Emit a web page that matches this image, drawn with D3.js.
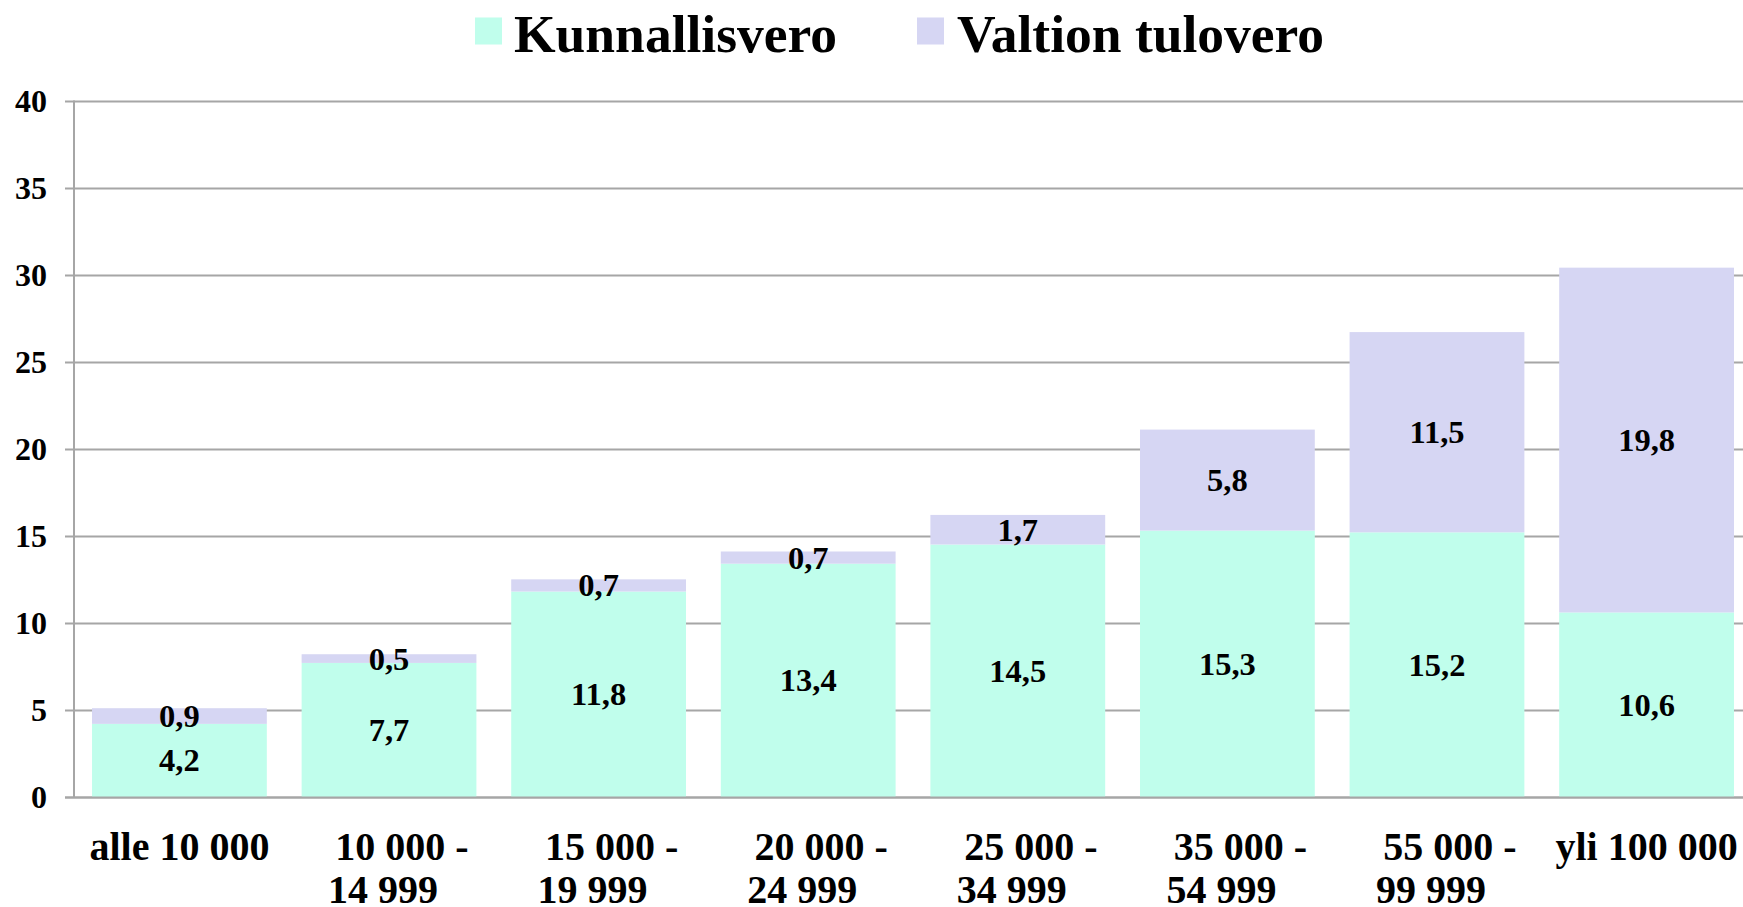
<!DOCTYPE html>
<html>
<head>
<meta charset="utf-8">
<script src="https://cdn.jsdelivr.net/npm/d3@7/dist/d3.min.js"></script>
<style>
  html, body { margin: 0; padding: 0; background: #ffffff; overflow: hidden; }
  svg { display: block; }
  text { font-family: "Liberation Serif", "Times New Roman", serif; font-weight: bold; fill: #000; }
</style>
</head>
<body>
<svg id="chart" width="1743" height="907"></svg>
<script>
// ---- Data ----
const categories = ["alle 10 000", "10 000 - 14 999", "15 000 - 19 999", "20 000 - 24 999",
                    "25 000 - 34 999", "35 000 - 54 999", "55 000 - 99 999", "yli 100 000"];
const categoryLines = [["alle 10 000"], ["10 000 -", "14 999"], ["15 000 -", "19 999"], ["20 000 -", "24 999"],
                       ["25 000 -", "34 999"], ["35 000 -", "54 999"], ["55 000 -", "99 999"], ["yli 100 000"]];
const seriesNames = ["Kunnallisvero", "Valtion tulovero"];
const kunnallisvero = [4.2, 7.7, 11.8, 13.4, 14.5, 15.3, 15.2, 10.6];
const valtionTulovero = [0.9, 0.5, 0.7, 0.7, 1.7, 5.8, 11.5, 19.8];
const yTicks = [0, 5, 10, 15, 20, 25, 30, 35, 40];

const colors = ["#C0FEEC", "#D6D6F3"];

// ---- Layout ----
const svg = d3.select("#chart");
const W = 1743, H = 907;
const x0 = 74, x1 = 1752, yBottom = 797, yTop = 100.5;

const x = d3.scaleBand().domain(categories).range([x0, x1]).paddingInner(0.166).paddingOuter(0.086);
const y = d3.scaleLinear().domain([0, 40]).range([yBottom, yTop]);

const rows = categories.map((c, i) => ({ cat: c, Kunnallisvero: kunnallisvero[i], "Valtion tulovero": valtionTulovero[i] }));
const stack = d3.stack().keys(seriesNames)(rows);

// gridlines
const gridColor = "#A6A6A6";
svg.append("g").selectAll("line").data(yTicks).join("line")
  .attr("x1", 65).attr("x2", W)
  .attr("y1", d => Math.round(y(d)) + 0.5).attr("y2", d => Math.round(y(d)) + 0.5)
  .attr("stroke", gridColor).attr("stroke-width", 2);

// vertical axis line
svg.append("line").attr("x1", x0).attr("x2", x0).attr("y1", y(40)).attr("y2", yBottom + 1)
  .attr("stroke", gridColor).attr("stroke-width", 2);

// bars
const layers = svg.append("g").selectAll("g").data(stack).join("g")
  .attr("fill", (d, i) => colors[i]);
layers.selectAll("rect").data(d => d).join("rect")
  .attr("x", d => x(d.data.cat))
  .attr("width", x.bandwidth())
  .attr("y", d => y(d[1]))
  .attr("height", d => y(d[0]) - y(d[1]));

// redraw baseline over bars
svg.append("line").attr("x1", 65).attr("x2", W).attr("y1", yBottom + 0.5).attr("y2", yBottom + 0.5)
  .attr("stroke", gridColor).attr("stroke-width", 2);

// data labels
const fmt = v => String(v.toFixed(1)).replace(".", ",");
stack.forEach(layer => {
  svg.append("g").selectAll("text").data(layer).join("text")
    .attr("x", d => x(d.data.cat) + x.bandwidth() / 2)
    .attr("y", d => y((d[0] + d[1]) / 2) + 11)
    .attr("text-anchor", "middle")
    .attr("font-size", 32.5)
    .text(d => fmt(d[1] - d[0]));
});

// y tick labels
svg.append("g").selectAll("text").data(yTicks).join("text")
  .attr("x", 47).attr("y", d => y(d) + 11)
  .attr("text-anchor", "end").attr("font-size", 32)
  .text(d => d);

// x labels
const xl = svg.append("g");
categoryLines.forEach((lines, i) => {
  const cx = x(categories[i]) + x.bandwidth() / 2;
  lines.forEach((ln, j) => {
    let dx = 0;
    if (lines.length > 1) dx = j === 0 ? 13 : -6;
    xl.append("text").attr("x", cx + dx).attr("y", 860 + j * 43)
      .attr("text-anchor", "middle").attr("font-size", 40).text(ln);
  });
});

// legend
const legendItems = [{ name: seriesNames[0], sx: 475, tx: 514 }, { name: seriesNames[1], sx: 917, tx: 957 }];
legendItems.forEach((it, i) => {
  svg.append("rect").attr("x", it.sx).attr("y", 17.5).attr("width", 27).attr("height", 27).attr("fill", colors[i]);
  svg.append("text").attr("x", it.tx).attr("y", 51.5).attr("font-size", 53.5).text(it.name);
});
</script>
</body>
</html>
